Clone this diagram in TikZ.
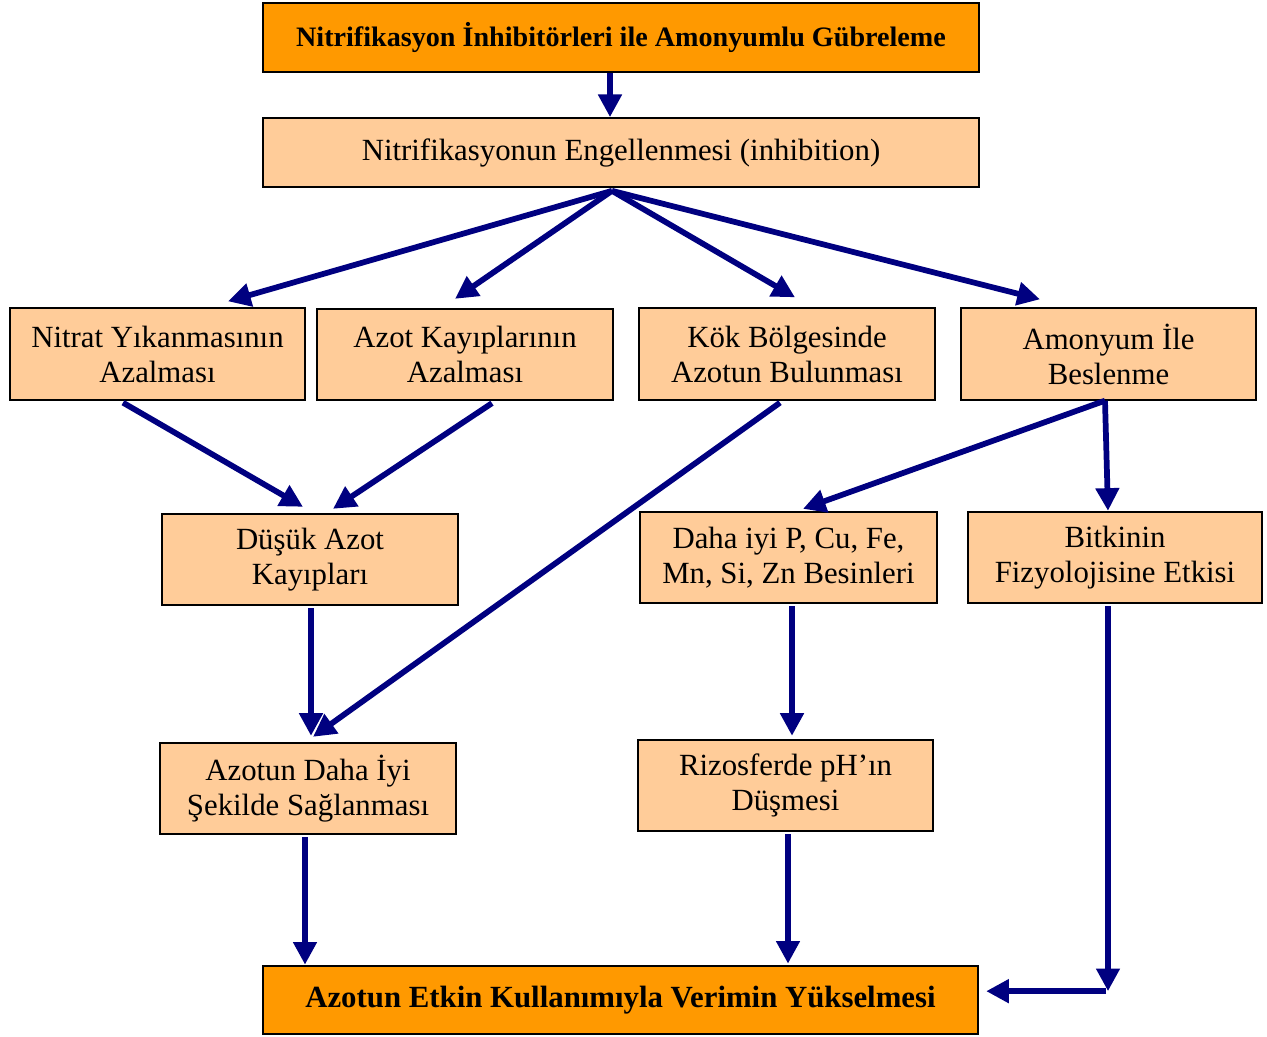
\documentclass[tikz,border=0pt]{standalone}
\usepackage{fontspec}
\setmainfont{Liberation Serif}
\usetikzlibrary{arrows.meta,calc}
\definecolor{orng}{HTML}{FF9900}
\definecolor{peach}{HTML}{FFCC99}
\definecolor{navyc}{HTML}{000080}
\begin{document}
\begin{tikzpicture}[x=0.75pt,y=-0.75pt,
  box/.style={draw=black,line width=1.5pt,fill=peach,align=center,inner sep=0pt,
    font=\fontsize{23.1}{26.3}\selectfont,minimum width=221.5pt,minimum height=68.5pt},
  wide/.style={box,minimum width=536.5pt,minimum height=51.5pt},
  mainbox/.style={wide,fill=orng},
  arr/.style={draw=navyc,line width=4.3pt,-{Triangle[length=17pt,width=17pt]}}]
\useasboundingbox (0,0) rectangle (1267,1037);
\node[mainbox,font=\fontsize{21.1}{25}\selectfont\bfseries,text depth=4pt] (top) at (621,37.5) {Nitrifikasyon İnhibitörleri ile Amonyumlu Gübreleme};
\node[wide] (eng) at (621,152.5) {Nitrifikasyonun Engellenmesi (inhibition)};
\node[box] (n1) at (157.5,354) {Nitrat Yıkanmasının\\Azalması};
\node[box] (n2) at (465,354.5) {Azot Kayıplarının\\Azalması};
\node[box] (n3) at (787,354) {Kök Bölgesinde\\Azotun Bulunması};
\node[box] (n4) at (1108.5,354) {Amonyum İle\\Beslenme};
\node[box] (d1) at (310,559.5) {Düşük Azot\\Kayıpları};
\node[box,minimum width=222.5pt] (d2) at (788.5,557.5) {Daha iyi P, Cu, Fe,\\Mn, Si, Zn Besinleri};
\node[box,minimum width=220.5pt] (d3) at (1115,557.5) {Bitkinin\\Fizyolojisine Etkisi};
\node[box] (r1) at (308,788.5) {Azotun Daha İyi\\Şekilde Sağlanması};
\node[box] (r2) at (785.5,785.5) {Rizosferde pH’ın\\Düşmesi};
\node[mainbox,font=\fontsize{23.1}{26.3}\selectfont\bfseries] (bot) at (620.5,1000) {Azotun Etkin Kullanımıyla Verimin Yükselmesi};
% connectors
\coordinate (t0) at ($(top.south)+(-11,0)$);
\draw[arr] (t0) -- (t0 |- eng.north);
\coordinate (e0) at ($(eng.south)+(-9,3)$);
\draw[arr] (e0) -- ($(n1.north)+(70.5,-6)$);
\draw[arr] (e0) -- ($(n2.north)+(-10,-9)$);
\draw[arr] (e0) -- ($(n3.north)+(8,-10)$);
\draw[arr] (e0) -- ($(n4.north)+(-68.5,-8)$);
\draw[arr] ($(n1.south)+(-34.5,2)$) -- ($(d1.north)+(-7,-6)$);
\draw[arr] ($(n2.south)+(27,2)$) -- ($(d1.north)+(23,-4)$);
\draw[arr] ($(n3.south)+(-7,2)$) -- ($(r1.north)+(5,-5)$);
\draw[arr] ($(n4.south)+(-3.5,0)$) -- ($(d2.north)+(14.5,-2)$);
\draw[arr] ($(n4.south)+(-3.5,0)$) -- ($(d3.north)+(-7,0)$);
\coordinate (a1) at ($(d1.south)+(1,2)$);
\draw[arr] (a1) -- ($(a1 |- r1.north)+(0,-6)$);
\coordinate (a2) at ($(d2.south)+(3.5,2)$);
\draw[arr] (a2) -- ($(a2 |- r2.north)+(0,-3)$);
\coordinate (a3) at ($(d3.south)+(-7,2)$);
\coordinate (corner) at ($(d3.south)+(-7,387)$);
\draw[arr] (a3) -- (corner);
\draw[arr] ($(corner)+(-2,0)$) -- ($(corner -| bot.east)+(7,0)$);
\coordinate (a4) at ($(r1.south)+(-3,2)$);
\draw[arr] (a4) -- (a4 |- bot.north);
\coordinate (a5) at ($(r2.south)+(2.5,2)$);
\draw[arr] (a5) -- ($(a5 |- bot.north)+(0,-1)$);
\end{tikzpicture}
\end{document}
